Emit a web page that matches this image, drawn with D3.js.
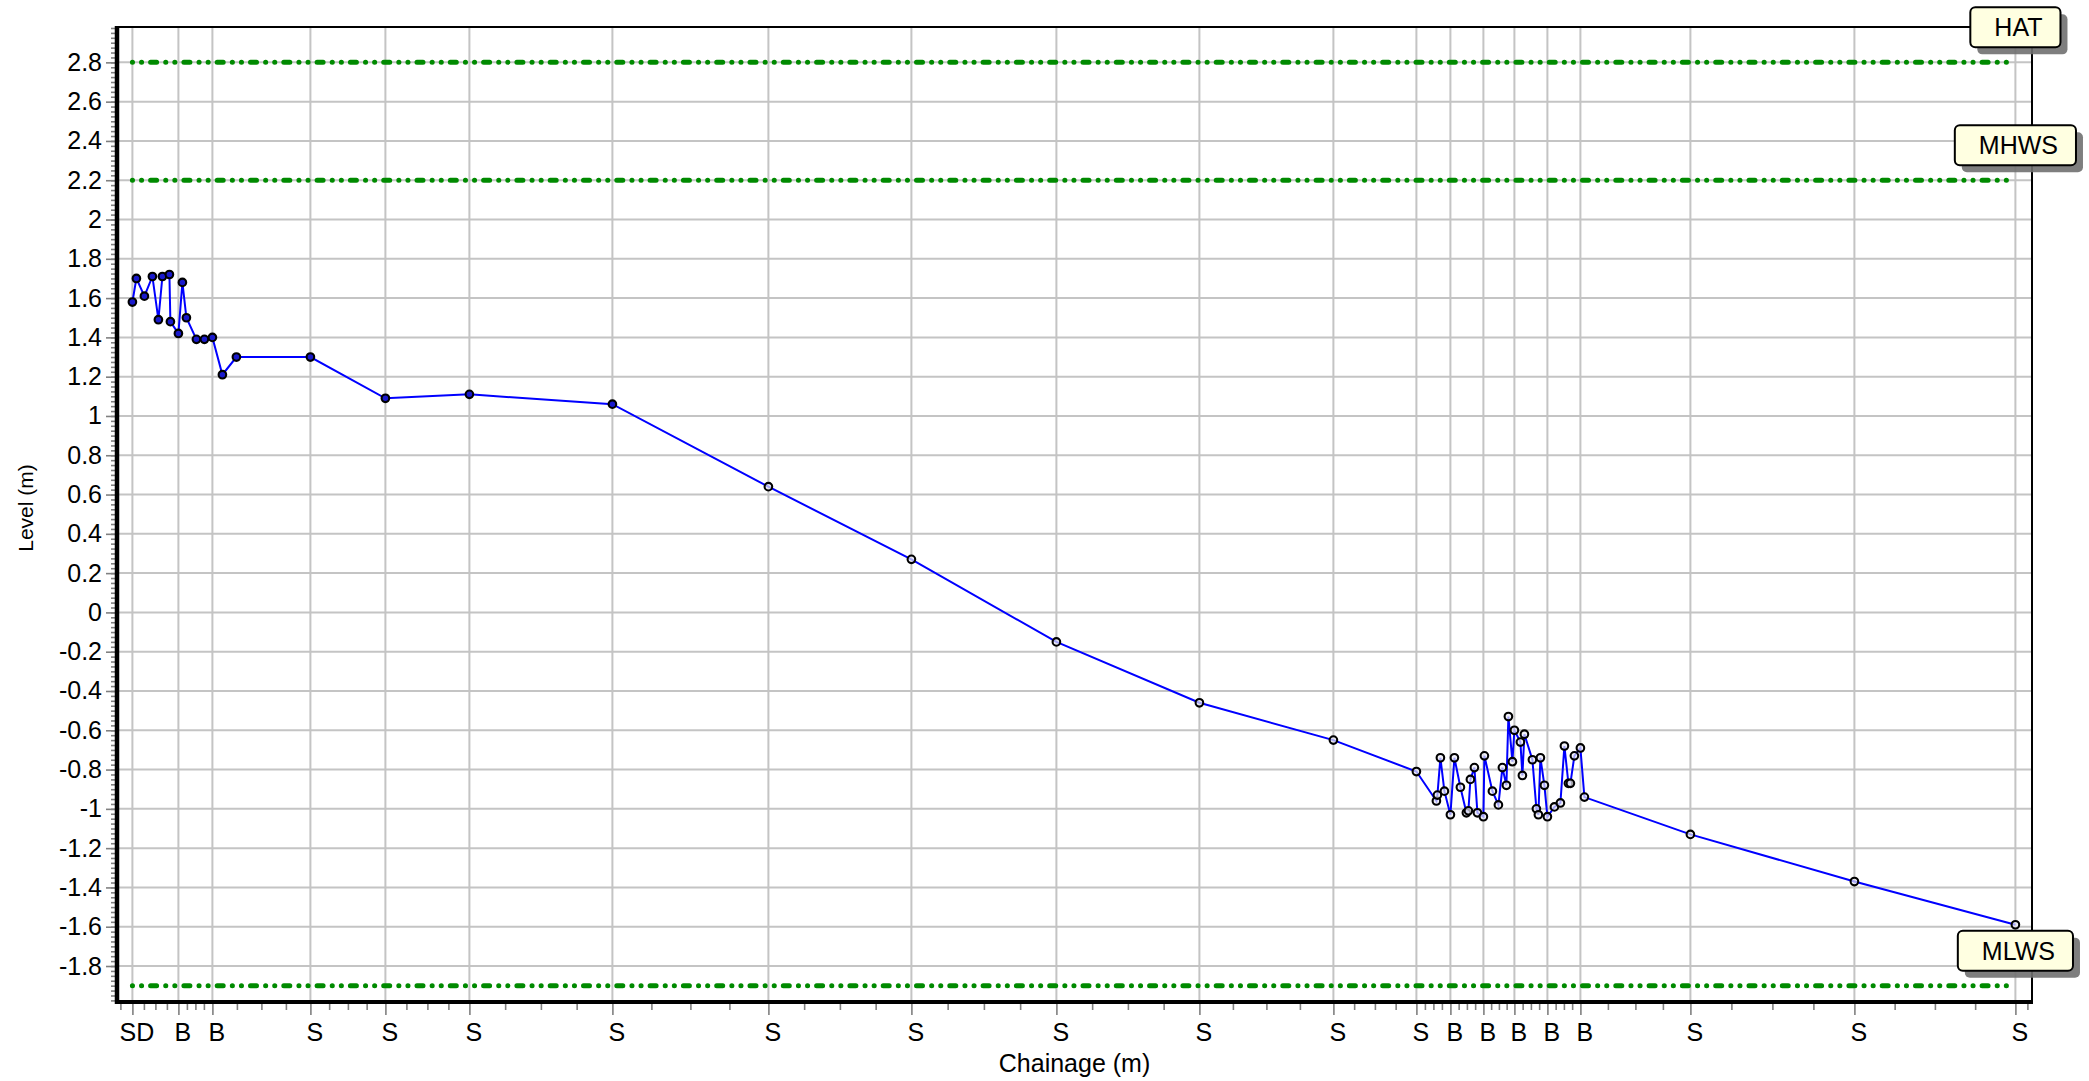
<!DOCTYPE html>
<html>
<head>
<meta charset="utf-8">
<script src="https://cdn.jsdelivr.net/npm/d3@7"></script>
<style>
  body { margin: 0; background: #fff; }
  svg { display: block; font-family: "Liberation Sans", Arial, sans-serif; }
</style>
</head>
<body>
<div id="chart"></div>
<script>
// survey profile: chainage (m), level (m), feature code ('' = none)
var chainage = [0, 0.4, 1.2, 2.0, 2.6, 3.0, 3.7, 3.8, 4.6, 5.0, 5.4, 6.4, 7.2, 8.0, 9.0, 10.4,
  17.8, 25.3, 33.7, 48.0, 63.6, 77.9, 92.4, 106.7, 120.1, 128.4,
  130.4, 130.5, 130.8, 131.2, 131.8, 132.2, 132.8, 133.4, 133.6, 133.8, 134.2, 134.5,
  135.1, 135.2, 136.0, 136.6, 137.0, 137.4, 137.6, 138.0, 138.2, 138.8, 139.0, 139.2,
  140.0, 140.4, 140.6, 140.8, 141.2, 141.5, 142.2, 142.8, 143.2, 143.6, 143.8, 144.2,
  144.8, 145.2, 155.8, 172.2, 188.3];
var level = [1.58, 1.70, 1.61, 1.71, 1.49, 1.71, 1.72, 1.48, 1.42, 1.68, 1.50, 1.39, 1.39, 1.40, 1.21, 1.30,
  1.30, 1.09, 1.11, 1.06, 0.64, 0.27, -0.15, -0.46, -0.65, -0.81,
  -0.96, -0.93, -0.74, -0.91, -1.03, -0.74, -0.89, -1.02, -1.01, -0.85, -0.79, -1.02,
  -1.04, -0.73, -0.91, -0.98, -0.79, -0.88, -0.53, -0.76, -0.60, -0.66, -0.83, -0.62,
  -0.75, -1.00, -1.03, -0.74, -0.88, -1.04, -0.99, -0.97, -0.68, -0.87, -0.87, -0.73,
  -0.69, -0.94, -1.13, -1.37, -1.59];
var codes = ['SD', '', '', '', '', '', '', '', 'B', '', '', '', '', 'B', '', '',
  'S', 'S', 'S', 'S', 'S', 'S', 'S', 'S', 'S', 'S',
  '', '', '', '', 'B', '', '', '', '', '', '', '',
  'B', '', '', '', '', '', '', '', 'B', '', '', '',
  '', '', '', '', '', 'B', '', '', '', '', '', '',
  'B', '', 'S', 'S', 'S'];

var tideNames = ['HAT', 'MHWS', 'MLWS'];
var tideLevels = [2.8, 2.2, -1.9];

var levelTicks = [-1.8, -1.6, -1.4, -1.2, -1, -0.8, -0.6, -0.4, -0.2, 0,
  0.2, 0.4, 0.6, 0.8, 1, 1.2, 1.4, 1.6, 1.8, 2, 2.2, 2.4, 2.6, 2.8];

var W = 2089, H = 1081;
var plotL = 117, plotR = 2032, plotT = 27, plotB = 1000;

var svg = d3.select('#chart').append('svg')
  .attr('width', W).attr('height', H);

var x = d3.scaleLinear().domain([-1.54, 189.96]).range([plotL, plotR]);
var y = d3.scaleLinear().domain([-1.973, 2.98]).range([plotB, plotT]);

var pts = chainage.map(function(c, i) { return {c: c, v: level[i], code: codes[i], i: i}; });
var coded = pts.filter(function(d) { return d.code !== ''; });

// minor x ticks: quarters between coded points, one step outside each end
var minorX = [];
coded.forEach(function(d, k) {
  if (k === 0) return;
  var a = coded[k - 1].c, b = d.c;
  for (var q = 1; q < 4; q++) minorX.push(a + (b - a) * q / 4);
});
minorX.push(coded[0].c - 1.2, coded[coded.length - 1].c + 1.2);

var minorY = d3.range(-1.975, 2.98, 0.025);

// grid
var grid = svg.append('g').attr('stroke', '#c4c4c4').attr('stroke-width', 2);
grid.selectAll('.hg').data(levelTicks).enter().append('line')
  .attr('x1', plotL + 2).attr('x2', plotR)
  .attr('y1', function(d) { return y(d); }).attr('y2', function(d) { return y(d); });
grid.selectAll('.vg').data(coded).enter().append('line')
  .attr('y1', plotT).attr('y2', plotB)
  .attr('x1', function(d) { return x(d.c); }).attr('x2', function(d) { return x(d.c); });

// tide levels
svg.append('g').selectAll('line').data(tideLevels).enter().append('line')
  .attr('x1', x(chainage[0])).attr('x2', x(chainage[chainage.length - 1]))
  .attr('y1', function(d) { return y(d); }).attr('y2', function(d) { return y(d); })
  .attr('stroke', '#008a00').attr('stroke-width', 5)
  .attr('stroke-linecap', 'round')
  .attr('stroke-dasharray', '0.1 9 0.1 9 6 9.1');

// profile line
var line = d3.line().x(function(d) { return x(d.c); }).y(function(d) { return y(d.v); });
svg.append('path').datum(pts)
  .attr('d', line).attr('fill', 'none')
  .attr('stroke', '#0000ff').attr('stroke-width', 2);

svg.append('g').selectAll('circle').data(pts).enter().append('circle')
  .attr('cx', function(d) { return x(d.c); })
  .attr('cy', function(d) { return y(d.v); })
  .attr('r', 3.8)
  .attr('fill', function(d) { return d.c <= 48 ? '#1a1acc' : 'rgba(235,235,245,0.7)'; })
  .attr('stroke', '#000').attr('stroke-width', 2.1);

// y axis
var yMajor = svg.append('g').attr('transform', 'translate(' + plotL + ',0)')
  .call(d3.axisLeft(y).tickValues(levelTicks).tickSize(11).tickPadding(4)
    .tickFormat(function(d) { return String(+d.toFixed(1)); }));
var yMinor = svg.append('g').attr('transform', 'translate(' + plotL + ',0)')
  .call(d3.axisLeft(y).tickValues(minorY).tickSize(6).tickFormat(''));

// x axis
var xMajor = svg.append('g').attr('transform', 'translate(0,' + (plotB + 2) + ')')
  .call(d3.axisBottom(x).tickValues(coded.map(function(d) { return d.c; }))
    .tickSize(13).tickPadding(8)
    .tickFormat(function(d, i) { return coded[i].code; }));
var xMinor = svg.append('g').attr('transform', 'translate(0,' + (plotB + 2) + ')')
  .call(d3.axisBottom(x).tickValues(minorX).tickSize(8).tickFormat(''));

[yMajor, yMinor, xMajor, xMinor].forEach(function(g) {
  g.select('.domain').remove();
  g.selectAll('.tick line').attr('stroke', '#808080').attr('stroke-width', 1.6);
  g.selectAll('.tick text').attr('fill', '#000').style('font-size', '25px');
});
xMajor.selectAll('.tick text').attr('dx', 4);

// frame
svg.append('line').attr('x1', plotL).attr('x2', plotR).attr('y1', plotT).attr('y2', plotT)
  .attr('stroke', '#000').attr('stroke-width', 2);
svg.append('line').attr('x1', plotR).attr('x2', plotR).attr('y1', plotT).attr('y2', plotB + 2)
  .attr('stroke', '#000').attr('stroke-width', 2);
svg.append('line').attr('x1', plotL).attr('x2', plotL).attr('y1', plotT - 1).attr('y2', plotB + 4)
  .attr('stroke', '#000').attr('stroke-width', 4.5);
svg.append('line').attr('x1', plotL - 2).attr('x2', plotR + 1).attr('y1', plotB + 2).attr('y2', plotB + 2)
  .attr('stroke', '#000').attr('stroke-width', 4);

// axis titles
svg.append('text').attr('x', (plotL + plotR) / 2).attr('y', 1072)
  .attr('text-anchor', 'middle').style('font-size', '25px').text('Chainage (m)');
svg.append('text').attr('transform', 'translate(33,508) rotate(-90)')
  .attr('text-anchor', 'middle').style('font-size', '21px').text('Level (m)');

// tide labels
var lx = x(chainage[chainage.length - 1]);
var tags = svg.append('g').selectAll('g').data(tideNames).enter().append('g')
  .attr('transform', function(d, i) { return 'translate(' + lx + ',' + (y(tideLevels[i]) - 35) + ')'; });
tags.each(function(d) {
  var g = d3.select(this);
  var t = g.append('text').attr('x', 3).attr('y', 0).attr('dy', '0.36em')
    .attr('text-anchor', 'middle').style('font-size', '25px').text(d);
  var w = t.node().getComputedTextLength() + 42, h = 40;
  g.insert('rect', 'text').attr('x', -w / 2 + 7).attr('y', -h / 2 + 7)
    .attr('width', w).attr('height', h).attr('rx', 5).attr('fill', '#707070').attr('opacity', 0.9);
  g.insert('rect', 'text').attr('x', -w / 2).attr('y', -h / 2)
    .attr('width', w).attr('height', h).attr('rx', 5)
    .attr('fill', '#ffffe1').attr('stroke', '#000').attr('stroke-width', 2);
});
</script>
</body>
</html>
